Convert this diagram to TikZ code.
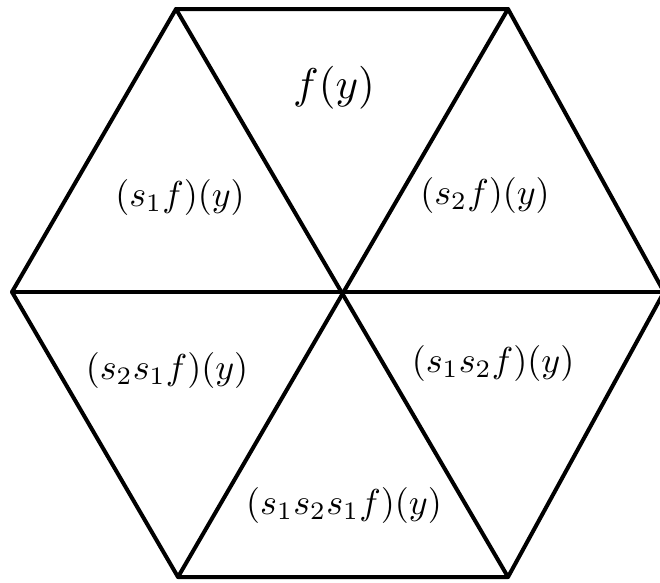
\documentclass[tikz,border=0pt]{standalone}
\newcommand{\biglab}[2][3.6]{\scalebox{#1}{$#2$}}
\begin{document}
\begin{tikzpicture}[x=1pt,y=-1pt,
  edge/.style={line width=4pt,line cap=round,line join=round},
  lab/.style={inner sep=0pt}]
\useasboundingbox (0,0) rectangle (660,582);
\coordinate (TL) at (176,9);
\coordinate (TR) at (508,9);
\coordinate (R) at (664,292);
\coordinate (BR) at (508,577);
\coordinate (BL) at (178,577);
\coordinate (L) at (12,292);
\coordinate (C) at (343,292);
\draw[edge] (TL) -- (TR) -- (R) -- (BR) -- (BL) -- (L) -- cycle;
\draw[edge] (TL) -- (BR);
\draw[edge] (TR) -- (BL);
\draw[edge] (L) -- (R);
\node[lab] (f0) at (334,88) {\biglab[4.3]{f(y)}};
\node[lab] (f1) at (180,197) {\biglab{(s_1 f)(y)}};
\node[lab] (f2) at (485,195) {\biglab{(s_2 f)(y)}};
\node[lab] (f21) at (167,370) {\biglab{(s_2 s_1 f)(y)}};
\node[lab] (f12) at (493,363) {\biglab{(s_1 s_2 f)(y)}};
\node[lab] (f121) at (344,505) {\biglab{(s_1 s_2 s_1 f)(y)}};
\end{tikzpicture}
\end{document}
